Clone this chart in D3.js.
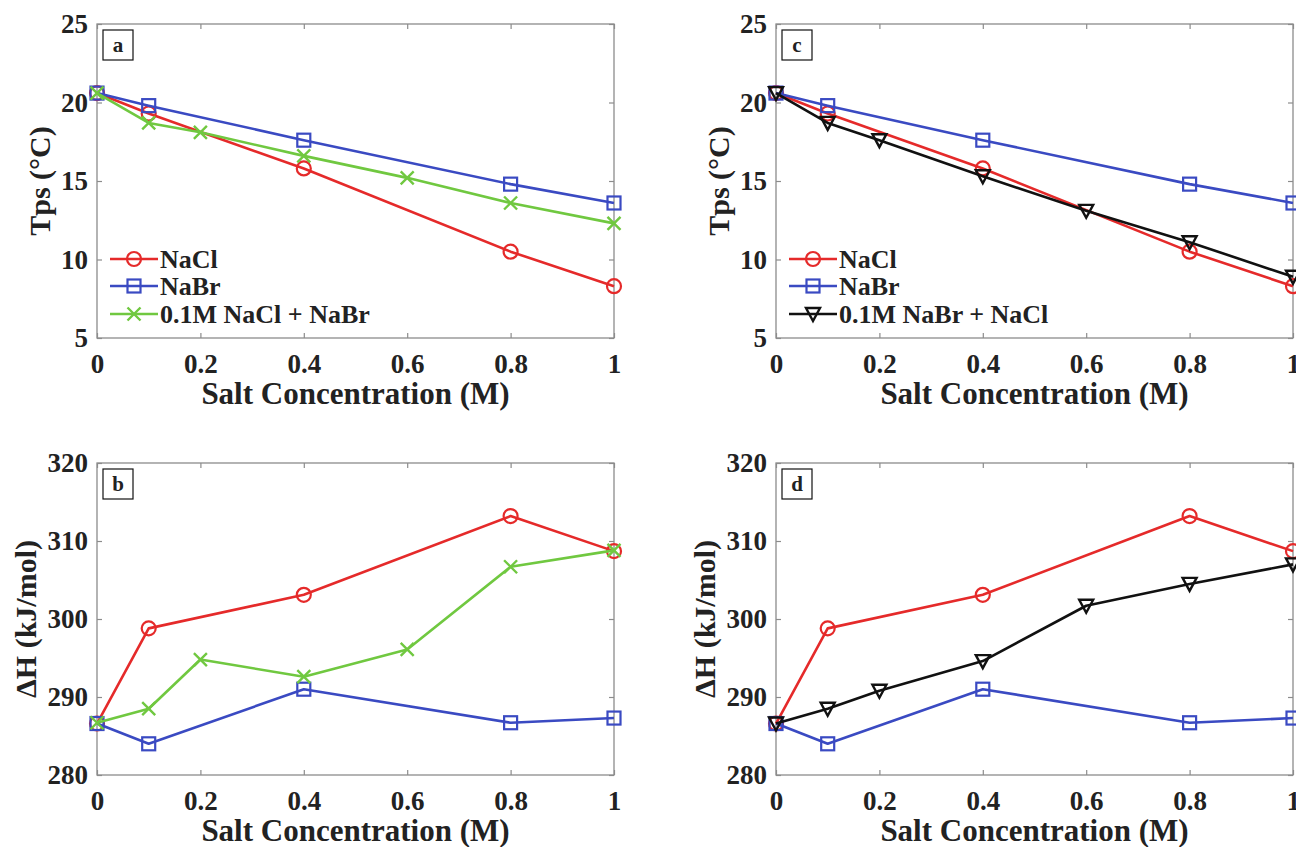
<!DOCTYPE html>
<html>
<head>
<meta charset="utf-8">
<script src="https://cdn.jsdelivr.net/npm/d3@7"></script>
<style>
  html, body { margin: 0; padding: 0; background: #fff; }
  svg { display: block; }
  text { font-family: "Liberation Serif", "Times New Roman", serif; font-weight: bold; fill: #222; }
</style>
</head>
<body>
<svg id="chart" width="1296" height="847"></svg>
<script>
// ---- data ----
const xSingle = [0, 0.1, 0.4, 0.8, 1];              // NaCl, NaBr concentrations (M)
const xMix    = [0, 0.1, 0.2, 0.4, 0.6, 0.8, 1];    // mixed-salt concentrations (M)

const tpsNaCl   = [20.6, 19.3, 15.8, 10.5, 8.3];
const tpsNaBr   = [20.6, 19.8, 17.6, 14.8, 13.6];
const tpsMixA   = [20.6, 18.7, 18.1, 16.6, 15.2, 13.6, 12.3]; // 0.1M NaCl + NaBr
const tpsMixC   = [20.6, 18.7, 17.6, 15.3, 13.1, 11.1, 8.9];  // 0.1M NaBr + NaCl

const dhNaCl    = [286.6, 298.8, 303.1, 313.2, 308.7];
const dhNaBr    = [286.6, 284.0, 291.0, 286.7, 287.3];
const dhMixB    = [286.7, 288.5, 294.8, 292.6, 296.1, 306.7, 308.8];
const dhMixD    = [286.6, 288.5, 290.8, 294.6, 301.7, 304.5, 307.0];

const xTicks    = [0, 0.2, 0.4, 0.6, 0.8, 1];
const yTicksTps = [5, 10, 15, 20, 25];
const yTicksDH  = [280, 290, 300, 310, 320];
const xTitle    = "Salt Concentration (M)";
const yTitleTps = "Tps (°C)";
const yTitleDH  = "ΔH (kJ/mol)";
const legendA   = ["NaCl", "NaBr", "0.1M NaCl + NaBr"];
const legendC   = ["NaCl", "NaBr", "0.1M NaBr + NaCl"];
const panelLetters = ["a", "b", "c", "d"];

// ---- styles ----
const RED = "#e52a2a", BLUE = "#3a4ac2", GREEN = "#70c840", BLACK = "#111";
const FRAME = "#8c8c8c";

const svg = d3.select("#chart");

const panels = [
  { letter: panelLetters[0], left: 97,  top: 24,  w: 517, h: 314, dom: [5, 25],    yt: yTicksTps, title: yTitleTps, tOff: 47,
    series: [ {x: xSingle, y: tpsNaCl, c: RED, m: "o"}, {x: xSingle, y: tpsNaBr, c: BLUE, m: "s"}, {x: xMix, y: tpsMixA, c: GREEN, m: "x"} ],
    legend: legendA },
  { letter: panelLetters[1], left: 97,  top: 463, w: 517, h: 312, dom: [280, 320], yt: yTicksDH,  title: yTitleDH,  tOff: 61,
    series: [ {x: xSingle, y: dhNaCl, c: RED, m: "o"}, {x: xSingle, y: dhNaBr, c: BLUE, m: "s"}, {x: xMix, y: dhMixB, c: GREEN, m: "x"} ],
    legend: null },
  { letter: panelLetters[2], left: 776, top: 24,  w: 517, h: 314, dom: [5, 25],    yt: yTicksTps, title: yTitleTps, tOff: 47,
    series: [ {x: xSingle, y: tpsNaCl, c: RED, m: "o"}, {x: xSingle, y: tpsNaBr, c: BLUE, m: "s"}, {x: xMix, y: tpsMixC, c: BLACK, m: "v"} ],
    legend: legendC },
  { letter: panelLetters[3], left: 776, top: 463, w: 517, h: 312, dom: [280, 320], yt: yTicksDH,  title: yTitleDH,  tOff: 61,
    series: [ {x: xSingle, y: dhNaCl, c: RED, m: "o"}, {x: xSingle, y: dhNaBr, c: BLUE, m: "s"}, {x: xMix, y: dhMixD, c: BLACK, m: "v"} ],
    legend: null }
];

function drawMarker(g, type, cx, cy, color) {
  if (type === "o") {
    g.append("circle").attr("cx", cx).attr("cy", cy).attr("r", 7)
      .attr("fill", "none").attr("stroke", color).attr("stroke-width", 2.2);
  } else if (type === "s") {
    g.append("rect").attr("x", cx - 6.5).attr("y", cy - 6.5).attr("width", 13).attr("height", 13)
      .attr("fill", "none").attr("stroke", color).attr("stroke-width", 2.2);
  } else if (type === "x") {
    const s = 6.5;
    g.append("path").attr("d", `M${cx - s},${cy - s}L${cx + s},${cy + s}M${cx - s},${cy + s}L${cx + s},${cy - s}`)
      .attr("fill", "none").attr("stroke", color).attr("stroke-width", 2.4);
  } else if (type === "v") {
    g.append("path").attr("d", `M${cx - 7},${cy - 6}L${cx + 7},${cy - 6}L${cx},${cy + 7}Z`)
      .attr("fill", "none").attr("stroke", color).attr("stroke-width", 2.4).attr("stroke-linejoin", "miter");
  }
}

const fmtX = d => d === 0 ? "0" : d === 1 ? "1" : d3.format(".1f")(d);

panels.forEach(p => {
  const x = d3.scaleLinear().domain([0, 1]).range([0, p.w]);
  const y = d3.scaleLinear().domain(p.dom).range([p.h, 0]);
  const g = svg.append("g").attr("transform", `translate(${p.left},${p.top})`);

  // frame
  g.append("rect").attr("x", 0).attr("y", 0).attr("width", p.w).attr("height", p.h)
    .attr("fill", "#fff").attr("stroke", FRAME).attr("stroke-width", 1.3);

  // axes (inward ticks)
  const xb = g.append("g").attr("transform", `translate(0,${p.h})`)
    .call(d3.axisBottom(x).tickValues(xTicks).tickFormat(fmtX).tickSizeInner(-5).tickSizeOuter(0).tickPadding(16));
  const xt = g.append("g")
    .call(d3.axisTop(x).tickValues(xTicks).tickFormat("").tickSizeInner(-5).tickSizeOuter(0));
  const yl = g.append("g")
    .call(d3.axisLeft(y).tickValues(p.yt).tickSizeInner(-5).tickSizeOuter(0).tickPadding(9));
  const yr = g.append("g").attr("transform", `translate(${p.w},0)`)
    .call(d3.axisRight(y).tickValues(p.yt).tickFormat("").tickSizeInner(-5).tickSizeOuter(0));
  [xb, xt, yl, yr].forEach(a => {
    a.select(".domain").remove();
    a.selectAll("line").attr("stroke", FRAME).attr("stroke-width", 1.2);
    a.selectAll("text").attr("font-size", 27).attr("fill", "#222")
      .style("font-family", '"Liberation Serif", serif').style("font-weight", "bold");
  });

  // axis titles
  g.append("text").attr("x", p.w / 2).attr("y", p.h + 66).attr("text-anchor", "middle")
    .attr("font-size", 31).text(xTitle);
  g.append("text").attr("transform", `translate(${-p.tOff},${p.h / 2}) rotate(-90)`)
    .attr("text-anchor", "middle").attr("font-size", 30).text(p.title);

  // series
  const line = d3.line().x(d => x(d[0])).y(d => y(d[1]));
  p.series.forEach(s => {
    const pts = s.x.map((v, i) => [v, s.y[i]]);
    g.append("path").attr("d", line(pts)).attr("fill", "none")
      .attr("stroke", s.c).attr("stroke-width", 2.6).attr("stroke-linejoin", "round");
    const mg = g.append("g");
    pts.forEach(d => drawMarker(mg, s.m, x(d[0]), y(d[1]), s.c));
  });

  // panel letter box
  g.append("rect").attr("x", 6).attr("y", 6).attr("width", 30).attr("height", 30)
    .attr("fill", "#fff").attr("stroke", "#111").attr("stroke-width", 1.2);
  g.append("text").attr("x", 21).attr("y", 28).attr("text-anchor", "middle")
    .attr("font-size", 21).text(p.letter);

  // legend
  if (p.legend) {
    const rows = [235, 262, 290];
    p.legend.forEach((lab, i) => {
      const s = p.series[i];
      const ly = rows[i];
      g.append("line").attr("x1", 13).attr("x2", 61).attr("y1", ly).attr("y2", ly)
        .attr("stroke", s.c).attr("stroke-width", 2.6);
      drawMarker(g, s.m, 37, ly, s.c);
      g.append("text").attr("x", 63).attr("y", ly).attr("dy", "0.35em")
        .attr("font-size", 26).text(lab);
    });
  }
});
</script>
</body>
</html>
